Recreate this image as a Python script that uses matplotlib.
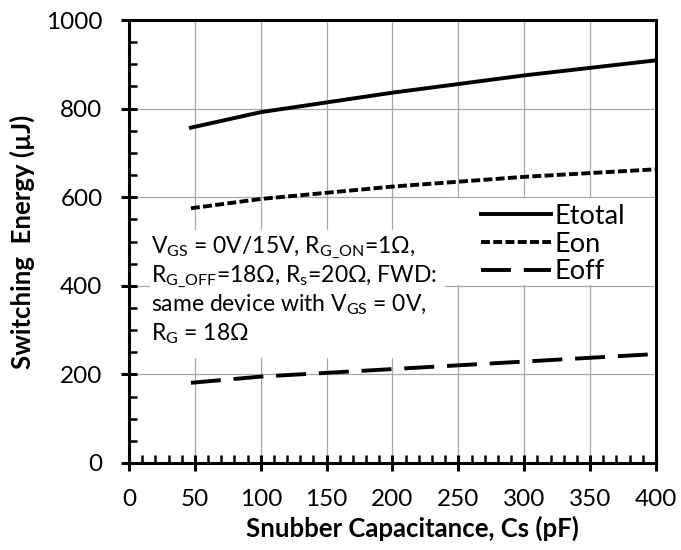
import matplotlib.pyplot as plt
from matplotlib.patches import Rectangle
from matplotlib.ticker import MultipleLocator

plt.rcParams['font.family'] = ['Lato', 'DejaVu Sans']
plt.rcParams['mathtext.fontset'] = 'custom'
plt.rcParams['mathtext.rm'] = 'Lato'
plt.rcParams['mathtext.it'] = 'Lato:italic'
plt.rcParams['mathtext.bf'] = 'Lato:bold'

# data
cs = [47, 100, 200, 300, 400]
etotal = [757, 792, 836, 875, 909]
eon = [575, 596, 624, 646, 663]
eoff = [181, 195, 212, 229, 246]

note_lines = [
    r'V$_{\mathrm{GS}}$ = 0V/15V, R$_{\mathrm{G\_ON}}$=1Ω,',
    r'R$_{\mathrm{G\_OFF}}$=18Ω, R$_{\mathrm{s}}$=20Ω, FWD:',
    r'same device with V$_{\mathrm{GS}}$ = 0V,',
    r'R$_{\mathrm{G}}$ = 18Ω',
]

fig = plt.figure(figsize=(6.81, 5.5), dpi=100)
ax = fig.add_axes([0.1894, 0.1582, 0.7739, 0.8054])

lw = 2.8
ax.plot(cs, etotal, color='black', lw=lw, label='Etotal', zorder=4)
ax.plot(cs, eon, color='black', lw=lw, dashes=(2.3, 0.85), label='Eon', zorder=4)
ax.plot(cs, eoff, color='black', lw=lw, dashes=(7.7, 3.3), label='Eoff', zorder=4)

ax.set_xlim(0, 400)
ax.set_ylim(0, 1000)
ax.xaxis.set_major_locator(MultipleLocator(50))
ax.xaxis.set_minor_locator(MultipleLocator(10))
ax.yaxis.set_major_locator(MultipleLocator(200))
ax.yaxis.set_minor_locator(MultipleLocator(50))
ax.grid(True, which='major', color='#a8a8a8', lw=0.9, zorder=0)
ax.set_axisbelow(True)

for s in ax.spines.values():
    s.set_linewidth(2.2)
    s.set_zorder(6)

ax.tick_params(which='major', direction='inout', length=12, width=2.2,
               labelsize=17.5)
ax.tick_params(which='minor', direction='in', length=5.5, width=1.8)
ax.tick_params(axis='x', which='major', pad=13)
ax.tick_params(axis='y', which='major', pad=13)

ax.set_xlabel('Snubber Capacitance, Cs (pF)', fontsize=18.5, fontweight='bold',
              labelpad=4, x=0.537)
ax.set_ylabel('Switching  Energy (µJ)', fontsize=18.5, fontweight='bold', labelpad=8)

# white boxes behind the test conditions and the legend
ax.add_patch(Rectangle((0.04, 0.237), 0.56, 0.29, transform=ax.transAxes,
                       facecolor='white', edgecolor='none', zorder=2))
ax.add_patch(Rectangle((0.6, 0.402), 0.4, 0.196, transform=ax.transAxes,
                       facecolor='white', edgecolor='none', zorder=2))
for i, line in enumerate(note_lines):
    ax.text(0.0417, 0.474 - i * 0.0655, line, transform=ax.transAxes,
            fontsize=16.5, va='baseline', ha='left', zorder=3)

leg = ax.legend(loc='upper left', bbox_to_anchor=(0.655, 0.6), fontsize=19.5,
                frameon=False, handlelength=2.6, handletextpad=0.1,
                labelspacing=0.1, borderpad=0.25, borderaxespad=0)
leg.set_zorder(5)

fig.savefig('out.png', dpi=100)
